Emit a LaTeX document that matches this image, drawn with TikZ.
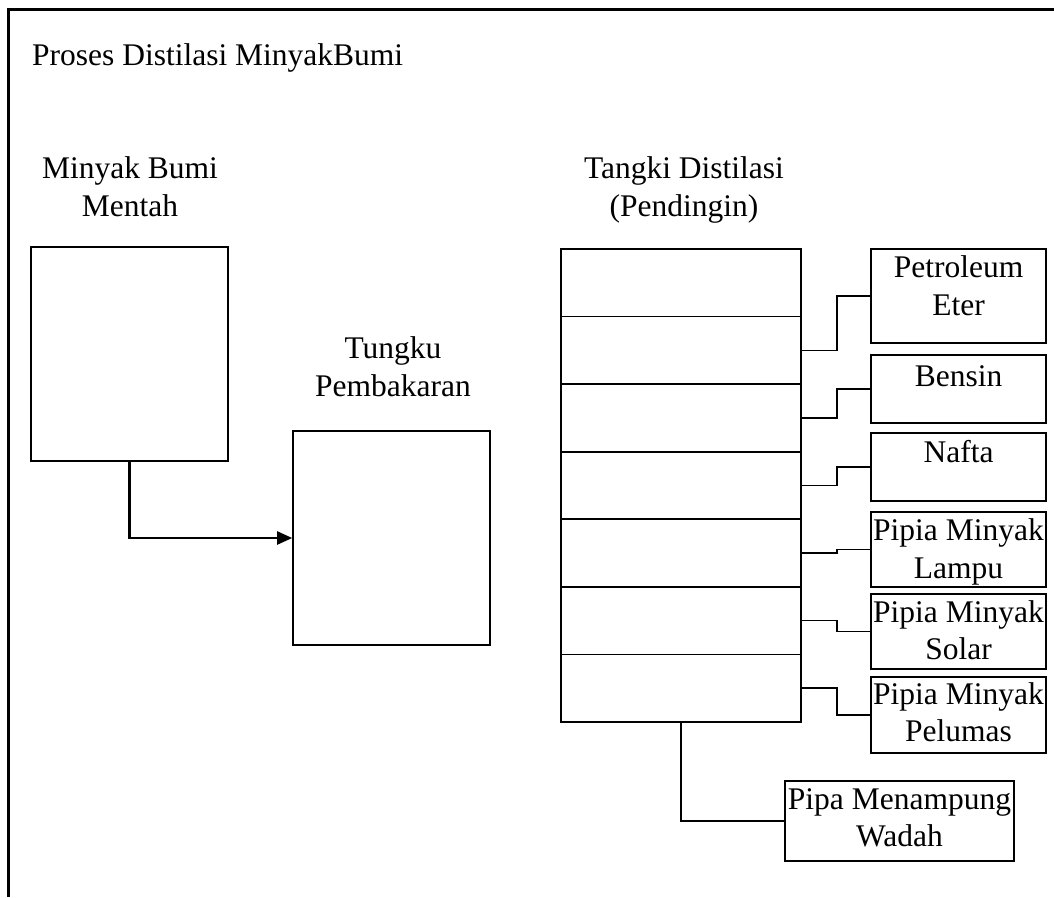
\documentclass[tikz,border=0pt]{standalone}
\usepackage{fontspec}
\setmainfont{Liberation Serif}
\usetikzlibrary{arrows.meta}
\begin{document}
\begin{tikzpicture}[x=1pt,y=-1pt,
  every node/.style={font=\fontsize{31.5}{37.5}\selectfont},
  frame/.style={line width=2.2pt},
  blk/.style={draw, line width=1.6pt, inner sep=0pt},
  txt/.style={align=center, inner sep=0pt, anchor=base},
  conn/.style={line width=1.6pt},
  arr/.style={line width=2.2pt, -{Triangle[length=15pt,width=13pt]}}]
\useasboundingbox (0,0) rectangle (1054,897);
\draw[frame] (8.5,897) -- (8.5,9.5) -- (1054,9.5);
% title
\node[txt, anchor=base west] (title) at (32,65) {Proses Distilasi MinyakBumi};
% left boxes
\node[blk, minimum width=197, minimum height=214] (crude) at (129.5,354) {};
\node[blk, minimum width=197, minimum height=214] (tungku) at (391.5,538) {};
% two-line labels: base anchor sits on the last line
\node[txt] (lcrude) at (130,216) {Minyak Bumi\\Mentah};
\node[txt] (ltungku) at (393,396) {Tungku\\Pembakaran};
\node[txt] (ltank) at (684,216) {Tangki Distilasi\\(Pendingin)};
% tank
\foreach \i in {1,...,7}{
  \node[blk, minimum width=240, minimum height=67.57] (t\i) at (681,{249+67.571*(\i-0.5)}) {};
}
% product boxes
\node[blk, minimum width=175, minimum height=94] (pe) at (958.5,296) {};
\node[blk, minimum width=175, minimum height=68] (bensin) at (958.5,389) {};
\node[blk, minimum width=175, minimum height=68] (nafta) at (958.5,467) {};
\node[blk, minimum width=175, minimum height=75] (lampu) at (958.5,549.5) {};
\node[blk, minimum width=175, minimum height=75] (solar) at (958.5,631.5) {};
\node[blk, minimum width=175, minimum height=76] (pelumas) at (958.5,715) {};
\node[blk, minimum width=229, minimum height=80] (wadah) at (899.5,821) {};
\node[txt] (tpe) at ([yshift=-67pt]pe.north) {Petroleum\\Eter};
\node[txt] (tbensin) at ([yshift=-32pt]bensin.north) {Bensin};
\node[txt] (tnafta) at ([yshift=-30pt]nafta.north) {Nafta};
\node[txt] (tlampu) at ([yshift=-67pt]lampu.north) {Pipia Minyak\\Lampu};
\node[txt] (tsolar) at ([yshift=-66.5pt]solar.north) {Pipia Minyak\\Solar};
\node[txt] (tpelumas) at ([yshift=-65.5pt]pelumas.north) {Pipia Minyak\\Pelumas};
\node[txt] (twadah) at ([yshift=-66.5pt]wadah.north) {Pipa Menampung\\Wadah};
% connectors
\draw[arr] (crude.south) |- (tungku.west);
\draw[conn] (t2.east) -- ++(35,0) |- (pe.west);
\draw[conn] (t3.east) -- ++(35,0) |- (bensin.west);
\draw[conn] (t4.east) -- ++(35,0) |- (nafta.west);
\draw[conn] (t5.east) -- ++(35,0) |- (lampu.west);
\draw[conn] (t6.east) -- ++(35,0) |- (solar.west);
\draw[conn] (t7.east) -- ++(35,0) |- (pelumas.west);
\draw[conn] (t7.south) |- (wadah.west);
\end{tikzpicture}
\end{document}
